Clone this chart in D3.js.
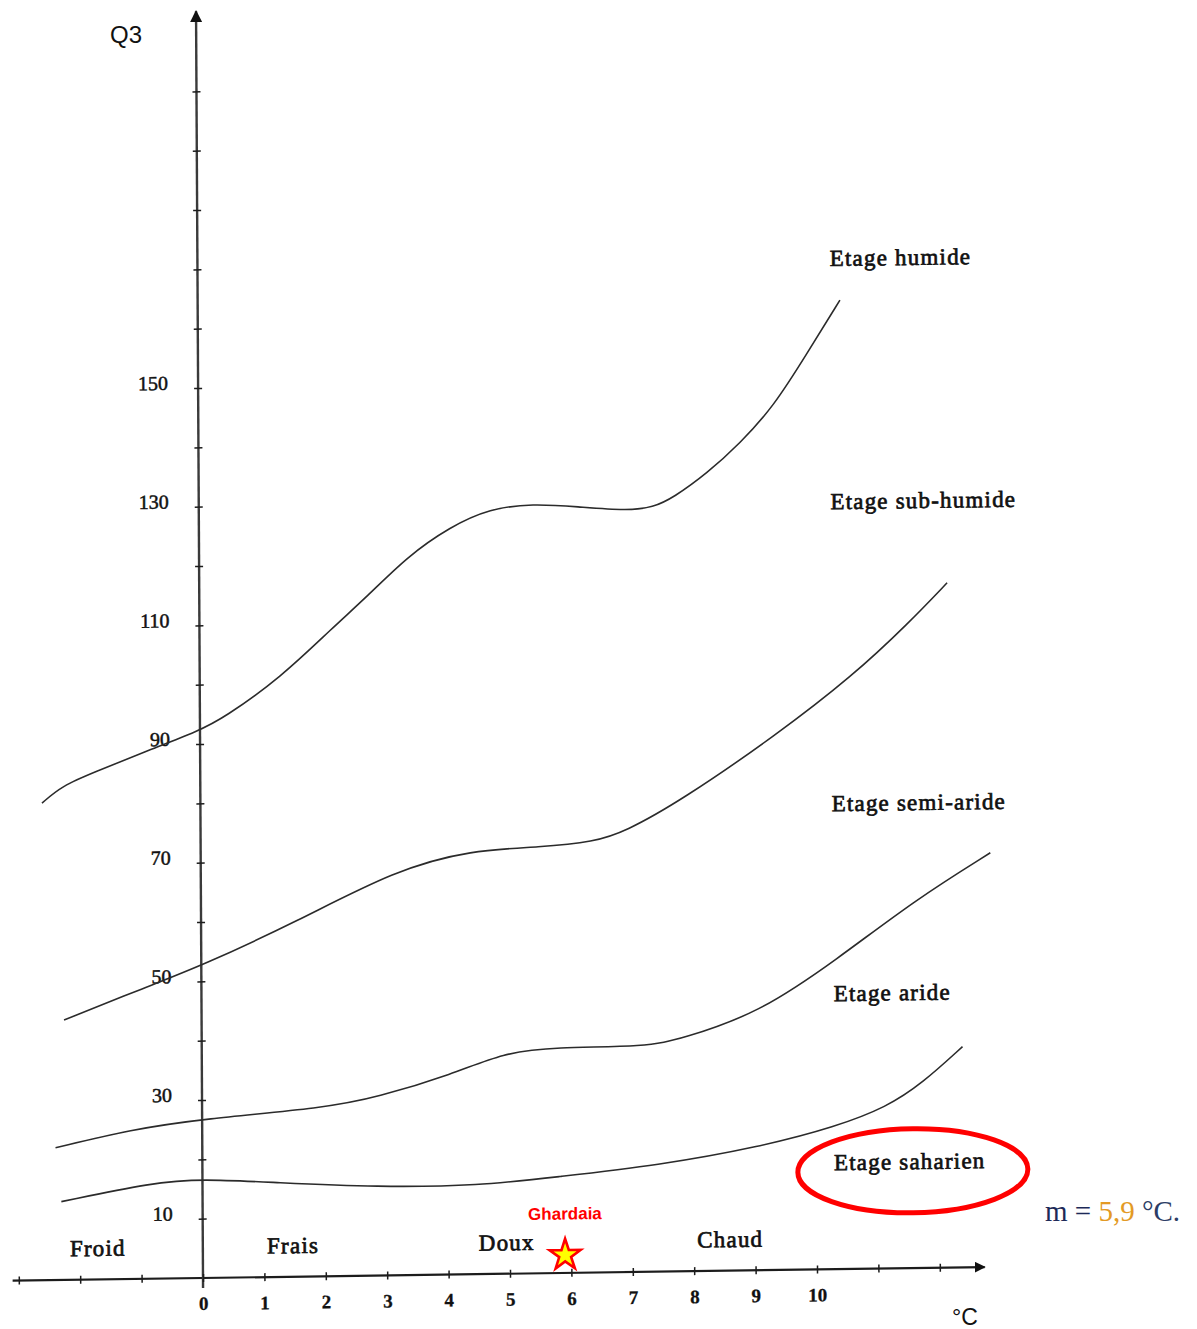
<!DOCTYPE html>
<html>
<head>
<meta charset="utf-8">
<title>Climagramme d'Emberger</title>
<script src="https://cdn.jsdelivr.net/npm/d3@7"></script>
<style>
  html, body { margin: 0; padding: 0; background: #fff; }
  svg { display: block; }
</style>
</head>
<body>
<svg id="chart" width="1197" height="1329"></svg>
<script>
// Limits between the bioclimatic stages: [m (°C), Q3]
const humideLimit = [
  [-2.58, 80.4], [-2.25, 83.3], [-1.72, 85.5], [-0.91, 88.8], [0, 92.3],
  [0.38, 94.3], [1.31, 100.9], [2.18, 109.4], [2.73, 114.4], [3.39, 121.1],
  [4.09, 126.0], [4.74, 129.0], [5.44, 129.7], [6.16, 129.1], [6.98, 128.3],
  [7.40, 128.8], [7.73, 130.4], [8.28, 134.4], [8.82, 139.4], [9.37, 145.5],
  [9.92, 154.4], [10.46, 163.3]
];
const subHumideLimit = [
  [-2.24, 43.8], [-0.89, 49.2], [0, 52.6], [1.55, 59.8], [3.17, 68.3],
  [4.41, 71.5], [5.54, 71.8], [6.41, 72.6], [6.91, 74.2], [7.84, 79.4],
  [9.39, 90.2], [10.63, 99.9], [11.56, 108.8], [12.18, 115.4]
];
const semiArideLimit = [
  [-2.39, 22.3], [-1.15, 25.2], [0, 26.8], [2.01, 28.4], [2.84, 30.0],
  [4.09, 33.8], [4.91, 37.2], [5.74, 38.1], [7.24, 37.9], [7.82, 39.2],
  [9.07, 43.3], [10.34, 52.1], [11.64, 62.1], [12.86, 69.8]
];
const arideLimit = [
  [-2.30, 13.2], [-0.81, 16.2], [0, 16.7], [1.19, 15.9], [2.85, 14.9],
  [4.51, 14.9], [5.76, 16.2], [7.42, 17.9], [9.09, 20.8], [10.32, 24.0],
  [11.15, 27.2], [11.73, 31.1], [12.39, 37.2]
];

// Axis ticks and labels
const xTickValues = [-3, -2, -1, 0, 1, 2, 3, 4, 5, 6, 7, 8, 9, 10, 11, 12];
const xTickLabels = [0, 1, 2, 3, 4, 5, 6, 7, 8, 9, 10];
const yTickValues = [10, 20, 30, 40, 50, 60, 70, 80, 90, 100, 110, 120, 130, 140, 150,
                     160, 170, 180, 190, 200];
const yTickLabels = [10, 30, 50, 70, 90, 110, 130, 150];

// Stage names and winter variants
const stageNames = ["Etage humide", "Etage sub-humide", "Etage semi-aride", "Etage aride", "Etage saharien"];
const winterClasses = ["Froid", "Frais", "Doux", "Chaud"];

// Station
const stationName = "Ghardaia";
const stationM = 5.9;
const stationQ3 = 3.0;

// ---- layout ----
const stageLabelAt = [[11.45, 170.3], [11.80, 129.3], [11.70, 78.4], [11.25, 46.4], [11.52, 17.9]];
const winterLabelAt = [-1.71, 1.47, 4.95, 8.59];
const winterLabelQ = 5.2;
const highlightAt = [11.57, 16.4];
const xDomainEnds = [-3.1, 12.73];
const yDomainEnds = [-1.7, 213.5];

const svg = d3.select("#chart");

const x = d3.scaleLinear().domain([0, 10]).range([203, 817]);
const y = d3.scaleLinear().domain([0, 150]).range([1278, 388]);

// the plate is slightly skewed: both axes lean a little
const shearX = 0.0055, shearY = -0.014;
const plot = svg.append("g")
  .attr("transform", `matrix(1,${shearY},${shearX},1,${-shearX * y(0)},${-shearY * x(0)})`);

const defs = svg.append("defs");
defs.append("marker")
  .attr("id", "arrow")
  .attr("viewBox", "0 0 10 10")
  .attr("refX", 9).attr("refY", 5)
  .attr("markerWidth", 5).attr("markerHeight", 5)
  .attr("markerUnits", "strokeWidth")
  .attr("orient", "auto")
  .append("path")
  .attr("d", "M0,0 L10,5 L0,10 Z")
  .attr("fill", "#111");

const axisColor = "#1c1c1c";
const serif = "'Liberation Serif', 'Times New Roman', serif";

// heavier strokes for the printed serif lettering
function inked(sel, w) {
  return sel.attr("fill", "#111").attr("stroke", "#111").attr("stroke-width", w);
}

// x axis line with arrow
plot.append("line")
  .attr("x1", x(xDomainEnds[0])).attr("y1", y(0))
  .attr("x2", x(xDomainEnds[1])).attr("y2", y(0))
  .attr("stroke", axisColor).attr("stroke-width", 2.2)
  .attr("marker-end", "url(#arrow)");

// y axis line with arrow
plot.append("line")
  .attr("x1", x(0)).attr("y1", y(yDomainEnds[0]))
  .attr("x2", x(0)).attr("y2", y(yDomainEnds[1]))
  .attr("stroke", "#3a3a3a").attr("stroke-width", 2.4)
  .attr("marker-end", "url(#arrow)");

// x ticks crossing the line
const xTickAxis = d3.axisBottom(x).tickValues(xTickValues).tickSize(8).tickFormat("");
const gxt = plot.append("g").attr("transform", `translate(0,${y(0) - 4})`).call(xTickAxis);
gxt.select(".domain").remove();
gxt.selectAll(".tick line").attr("stroke", axisColor).attr("stroke-width", 1.5);

// x tick labels
const xLabelAxis = d3.axisBottom(x).tickValues(xTickLabels).tickSize(0).tickPadding(0).tickFormat(d3.format("d"));
const gxl = plot.append("g").attr("transform", `translate(0,${y(0) + 32})`).call(xLabelAxis);
gxl.select(".domain").remove();
inked(gxl.selectAll(".tick text"), 0.3)
  .attr("y", 0).attr("dy", 0)
  .attr("font-family", serif)
  .attr("font-weight", "bold")
  .attr("font-size", 19);

// y ticks crossing the line
const yTickAxis = d3.axisLeft(y).tickValues(yTickValues).tickSize(8).tickFormat("");
const gyt = plot.append("g").attr("transform", `translate(${x(0) + 4},0)`).call(yTickAxis);
gyt.select(".domain").remove();
gyt.selectAll(".tick line").attr("stroke", axisColor).attr("stroke-width", 1.5);

// y tick labels
const yLabelAxis = d3.axisLeft(y).tickValues(yTickLabels).tickSize(0).tickPadding(0).tickFormat(d3.format("d"));
const gyl = plot.append("g").attr("transform", `translate(${x(0) - 30},1)`).call(yLabelAxis);
gyl.select(".domain").remove();
inked(gyl.selectAll(".tick text"), 0.5)
  .attr("dy", 0)
  .attr("font-family", serif)
  .attr("font-size", 20);

// stage limit curves
const line = d3.line()
  .x(d => x(d[0]))
  .y(d => y(d[1]))
  .curve(d3.curveBasis);

plot.selectAll("path.limit")
  .data([humideLimit, subHumideLimit, semiArideLimit, arideLimit])
  .join("path")
  .attr("class", "limit")
  .attr("d", line)
  .attr("fill", "none")
  .attr("stroke", "#2b2b2b")
  .attr("stroke-width", 1.6);

// stage names
inked(plot.selectAll("text.stage")
  .data(stageNames)
  .join("text")
  .attr("class", "stage")
  .attr("x", (d, i) => x(stageLabelAt[i][0]))
  .attr("y", (d, i) => y(stageLabelAt[i][1]))
  .attr("dy", "0.32em")
  .attr("text-anchor", "middle")
  .attr("font-family", serif)
  .attr("font-size", 23)
  .attr("letter-spacing", 1.2)
  .text(d => d), 0.7);

// highlighted stage of the station
plot.append("ellipse")
  .attr("cx", x(highlightAt[0]))
  .attr("cy", y(highlightAt[1]))
  .attr("rx", 115).attr("ry", 42)
  .attr("fill", "none")
  .attr("stroke", "#ff0000")
  .attr("stroke-width", 5);

// winter variants along the x axis
inked(plot.selectAll("text.winter")
  .data(winterClasses)
  .join("text")
  .attr("class", "winter")
  .attr("x", (d, i) => x(winterLabelAt[i]))
  .attr("y", y(winterLabelQ))
  .attr("dy", "0.32em")
  .attr("text-anchor", "middle")
  .attr("font-family", serif)
  .attr("font-size", 23)
  .attr("letter-spacing", 1.2)
  .text(d => d), 0.7);

// station marker
plot.append("path")
  .attr("d", d3.symbol(d3.symbolStar, 300)())
  .attr("transform", `translate(${x(stationM)},${y(stationQ3)})`)
  .attr("fill", "#ffff00")
  .attr("stroke", "#ff0000")
  .attr("stroke-width", 2.6)
  .attr("stroke-linejoin", "miter");

plot.append("text")
  .attr("x", x(stationM))
  .attr("y", y(10))
  .attr("dy", "0.35em")
  .attr("text-anchor", "middle")
  .attr("font-family", "'Liberation Sans', Arial, sans-serif")
  .attr("font-weight", "bold")
  .attr("font-size", 17)
  .attr("fill", "#ff0000")
  .text(stationName);

// axis titles
svg.append("text")
  .attr("x", 126).attr("y", 43)
  .attr("text-anchor", "middle")
  .attr("font-family", "'Liberation Sans', Arial, sans-serif")
  .attr("font-size", 24)
  .attr("fill", "#111")
  .text("Q3");

svg.append("text")
  .attr("x", 965).attr("y", 1325)
  .attr("text-anchor", "middle")
  .attr("font-family", "'Liberation Sans', Arial, sans-serif")
  .attr("font-size", 23)
  .attr("fill", "#111")
  .text("°C");

// station minimum temperature
const mText = svg.append("text")
  .attr("x", 1045).attr("y", 1221)
  .attr("font-family", serif)
  .attr("font-size", 29);
mText.append("tspan").attr("fill", "#1d2a58").text("m = ");
mText.append("tspan").attr("fill", "#e39a25").text(d3.format(".1f")(stationM).replace(".", ","));
mText.append("tspan").attr("fill", "#2c3d66").text(" °C.");
</script>
</body>
</html>
